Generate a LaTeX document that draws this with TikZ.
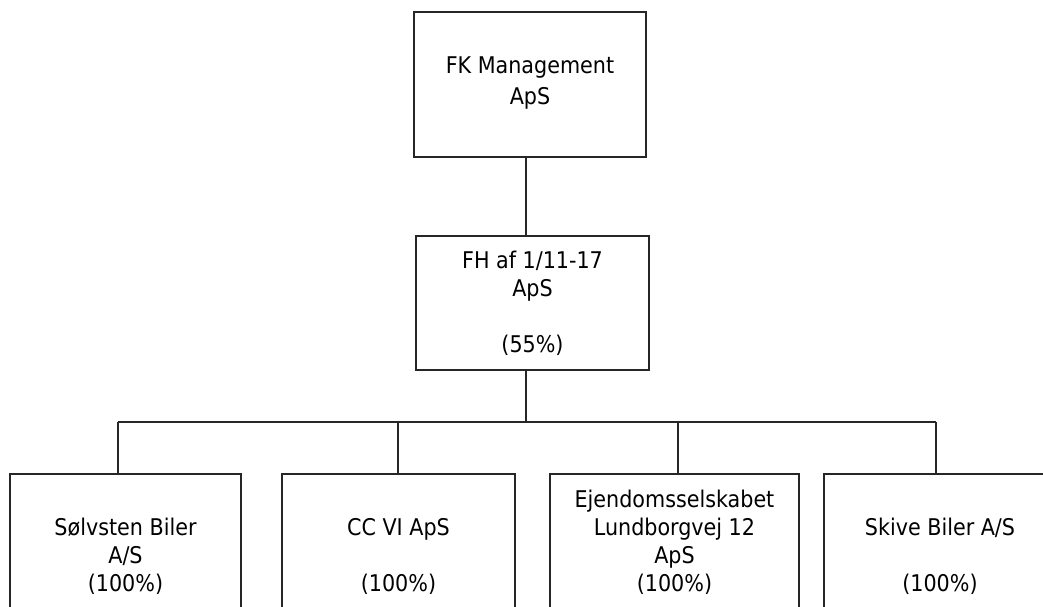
\documentclass[tikz,border=0pt]{standalone}
\usepackage{fontspec}
\setmainfont{DejaVu Sans Condensed}
\begin{document}
\begin{tikzpicture}[x=1pt,y=-1pt,
  box/.style={draw=black!85, line width=1.2pt, rectangle, align=center, inner sep=0pt,
    font=\fontsize{23}{28}\selectfont},
  conn/.style={draw=black!85, line width=1.2pt}]
\useasboundingbox (0,0) rectangle (1043,607);
\clip (0,0) rectangle (1043,607);
\fill[white] (0,0) rectangle (1043,607);
\node[box, minimum width=232pt, minimum height=145pt, font=\fontsize{23}{31}\selectfont] (top) at (530,84.5) {FK Management\\ApS\\[-24pt]\mbox{}};
\node[box, minimum width=233pt, minimum height=134pt] (mid) at (532.5,303) {FH af 1/11-17\\ApS\\\mbox{}\\(55\%)};
\node[box, minimum width=231pt, minimum height=136pt] (b1) at (125.5,542) {\vphantom{Ej}\\Sølvsten Biler\\A/S\\(100\%)};
\node[box, minimum width=233pt, minimum height=136pt] (b2) at (398.5,542) {\vphantom{Ej}\\CC VI ApS\\\mbox{}\\(100\%)};
\node[box, minimum width=249pt, minimum height=136pt] (b3) at (674.5,542) {Ejendomsselskabet\\Lundborgvej 12\\ApS\\(100\%)};
\node[box, minimum width=232pt, minimum height=136pt] (b4) at (940,542) {\vphantom{Ej}\\Skive Biler A/S\\\mbox{}\\(100\%)};
\coordinate (bus) at (526,422);
\coordinate (j1) at (118,422);
\coordinate (j2) at (398,422);
\coordinate (j3) at (678,422);
\coordinate (j4) at (936,422);
\draw[conn] (top.south -| bus) -- (mid.north -| bus);
\draw[conn] (mid.south -| bus) -- (bus);
\draw[conn] (j1) -- (j4);
\draw[conn] (j1) -- (j1 |- b1.north);
\draw[conn] (j2) -- (j2 |- b2.north);
\draw[conn] (j3) -- (j3 |- b3.north);
\draw[conn] (j4) -- (j4 |- b4.north);
\end{tikzpicture}
\end{document}
